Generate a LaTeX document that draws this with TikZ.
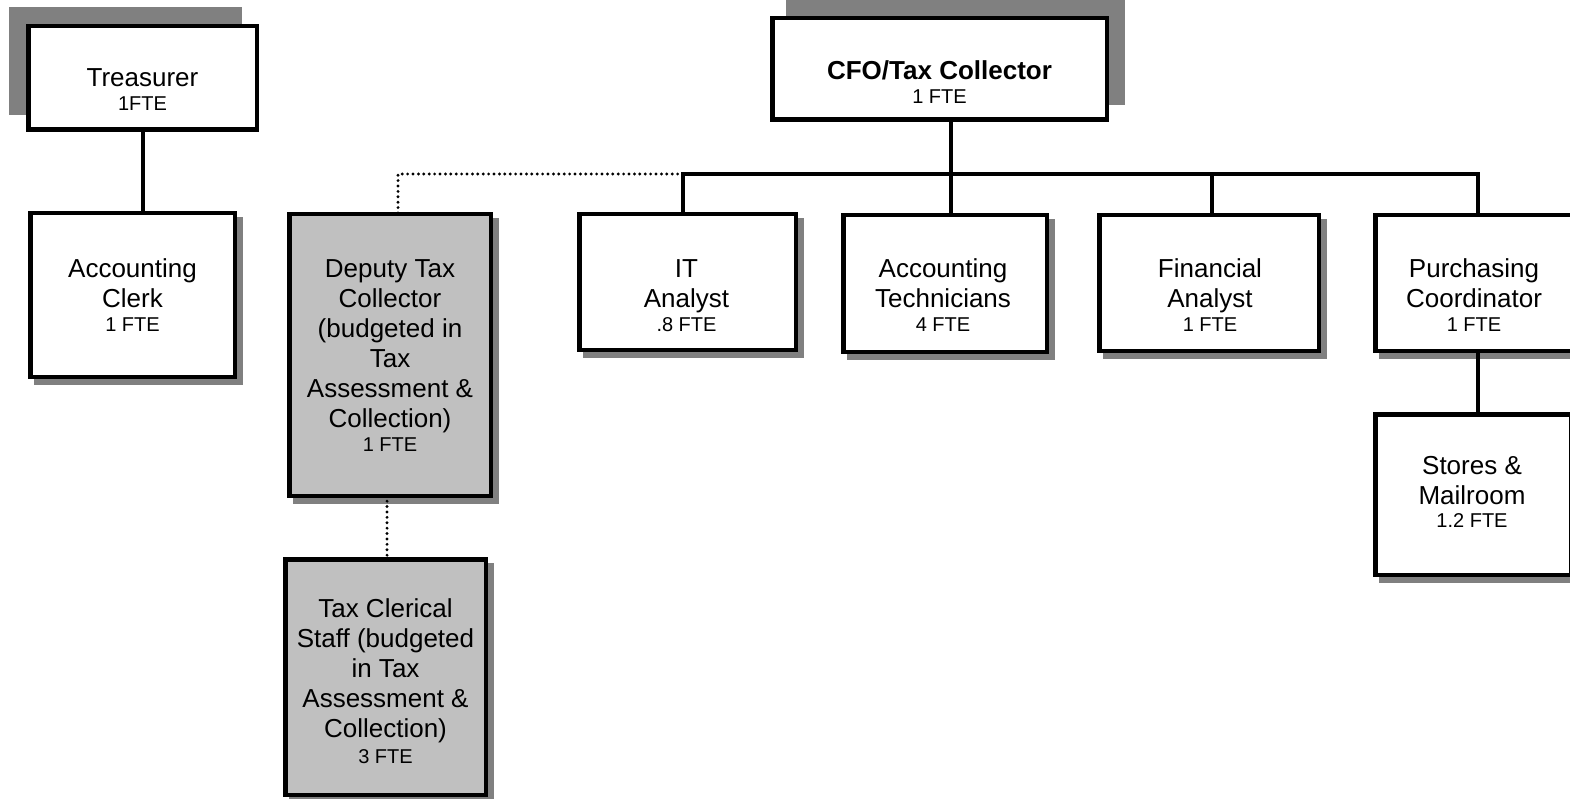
\documentclass[tikz,border=0pt]{standalone}
\usepackage{fontspec}
\setmainfont{Liberation Sans}
\definecolor{shadowgray}{HTML}{808080}
\definecolor{boxgray}{HTML}{C0C0C0}
\newcommand\mainf{\fontsize{26}{30}\selectfont}
\newcommand\ftef{\fontsize{20}{30}\selectfont}
\pgfdeclarelayer{bg}
\pgfsetlayers{bg,main}
\begin{document}
\begin{tikzpicture}[x=1pt,y=-1pt,
  orgbox/.style={draw, line width=4.5pt, outer sep=0pt, inner sep=0pt, fill=white},
  graybox/.style={orgbox, fill=boxgray},
  txt/.style={anchor=north, align=center, inner sep=0pt, outer sep=0pt, font=\mainf},
  conn/.style={line width=4pt, line join=miter},
  dots/.style={line width=3.2pt, line cap=round, dash pattern=on 0pt off 5.4pt},
  shd/.style={fill=shadowgray}]
\useasboundingbox (0,0) rectangle (1570,799);
\clip (0,0) rectangle (1570,799);

% boxes
\node[orgbox, minimum width=228.5pt, minimum height=103.5pt] (treas) at (142.5,78) {};
\node[orgbox, minimum width=204.5pt, minimum height=163.5pt] (clerk) at (132.5,295) {};
\node[orgbox, minimum width=334.5pt, minimum height=101.5pt] (cfo) at (939.5,69) {};
\node[graybox, minimum width=201.5pt, minimum height=281.5pt] (deputy) at (390,355) {};
\node[graybox, minimum width=200.5pt, minimum height=235.5pt] (taxcl) at (385.5,677) {};
\node[orgbox, minimum width=216.5pt, minimum height=135.5pt] (it) at (687.5,282) {};
\node[orgbox, minimum width=203.5pt, minimum height=136.5pt] (tech) at (945,283.5) {};
\node[orgbox, minimum width=219.5pt, minimum height=135.5pt] (fin) at (1209,283) {};
\node[orgbox, minimum width=197.5pt, minimum height=135.5pt] (purch) at (1474,283) {};
\node[orgbox, minimum width=195.5pt, minimum height=160.5pt] (stores) at (1473,494.5) {};

% texts
\node[txt] (treasT) at (142.5,66.5) {\rule{0pt}{20pt}Treasurer\\[-5.5pt]\ftef 1FTE};
\node[txt] (cfoT) at (939.5,59.5) {\rule{0pt}{20pt}\bfseries CFO/Tax Collector\\[-5.5pt]\ftef\mdseries 1 FTE};
\node[txt] (clerkT) at (132.5,257) {\rule{0pt}{20pt}Accounting\\Clerk\\[-5.5pt]\ftef 1 FTE};
\node[txt] (deputyT) at (390,257) {\rule{0pt}{20pt}Deputy Tax\\Collector\\(budgeted in\\Tax\\Assessment \&\\Collection)\\[-5.5pt]\ftef 1 FTE};
\node[txt] (taxclT) at (385.5,597.5) {\rule{0pt}{20pt}Tax Clerical\\Staff (budgeted\\in Tax\\Assessment \&\\Collection)\\[-4pt]\ftef 3 FTE};
\node[txt] (itT) at (686.5,257) {\rule{0pt}{20pt}IT\\Analyst\\[-5.5pt]\ftef .8 FTE};
\node[txt] (techT) at (943,257) {\rule{0pt}{20pt}Accounting\\Technicians\\[-5.5pt]\ftef 4 FTE};
\node[txt] (finT) at (1210,257) {\rule{0pt}{20pt}Financial\\Analyst\\[-5.5pt]\ftef 1 FTE};
\node[txt] (purchT) at (1474,257) {\rule{0pt}{20pt}Purchasing\\Coordinator\\[-5.5pt]\ftef 1 FTE};
\node[txt] (storesT) at (1472,454.5) {\rule{0pt}{20pt}Stores \&\\Mailroom\\[-7.5pt]\ftef 1.2 FTE};

% shadows
\begin{pgfonlayer}{bg}
  \fill[shd] ([shift={(-19.25,-19.25)}]treas.north west) rectangle ([shift={(-14.75,-14.75)}]treas.south east);
  \fill[shd] ([shift={(13.75,-19.25)}]cfo.north west) rectangle ([shift={(18.25,-14.75)}]cfo.south east);
  \foreach \n in {clerk,deputy,taxcl,it,tech,fin,purch,stores}
    \fill[shd] ([shift={(3.75,3.75)}]\n.north west) rectangle ([shift={(8.25,8.25)}]\n.south east);
\end{pgfonlayer}

% connectors
\coordinate (busL) at (683,174);
\coordinate (busC) at (951,174);
\coordinate (busF) at (1212,174);
\coordinate (busR) at (1478,174);
\coordinate (dotL) at (398,174);
\coordinate (dotD) at (387,528);

\draw[conn] (treas.south) -- (treas.south |- clerk.north);
\draw[conn] (cfo.south -| busC) -- (busC |- tech.north);
\draw[conn] (busL |- it.north) -- (busL) -- (busR) -- (busR |- purch.north);
\draw[conn] (busF) -- (busF |- fin.north);
\draw[conn] (purch.south -| busR) -- (busR |- stores.north);
\draw[dots] (busL) -- (dotL) -- (dotL |- deputy.north);
\draw[dots] (deputy.south -| dotD) -- (dotD |- taxcl.north);
\end{tikzpicture}
\end{document}
